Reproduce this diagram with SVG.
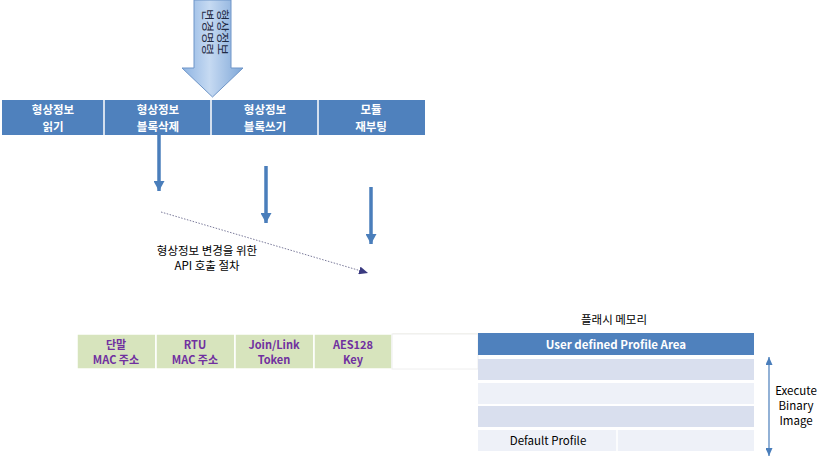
<svg xmlns="http://www.w3.org/2000/svg" width="826" height="464" viewBox="0 0 826 464">
<defs>
<style>
text{font-family:"Noto Sans CJK KR","Noto Sans",sans-serif;}
.hd{fill:#fff;font-size:11.5px;font-weight:bold;text-anchor:middle;}
.pu{fill:#7030A0;font-size:11px;font-weight:bold;text-anchor:middle;}
.bk{fill:#000;font-size:11.5px;text-anchor:middle;}
.sep{stroke:#fff;stroke-width:1.5;}
.dn{stroke:#4A7EBB;stroke-width:3.5;fill:none;}
.gb{fill:#D7E4BD;stroke:#fff;stroke-width:1.5;}
</style>
<linearGradient id="bg" x1="0" y1="0" x2="1" y2="0">
<stop offset="0" stop-color="#8DB3E2"/>
<stop offset="0.45" stop-color="#C6DAF2"/>
<stop offset="1" stop-color="#7FA7D8"/>
</linearGradient>
<marker id="dh" markerWidth="10" markerHeight="11" refX="10" refY="5.5" orient="auto" markerUnits="userSpaceOnUse"><path d="M0,0 L10,5.5 L0,11 Z" fill="#4A7EBB"/></marker>
<marker id="nv" markerWidth="9" markerHeight="8" refX="9" refY="4" orient="auto" markerUnits="userSpaceOnUse"><path d="M0,0 L9,4 L0,8 Z" fill="#3A3A80"/></marker>
<marker id="ba" markerWidth="8" markerHeight="7" refX="8" refY="3.5" orient="auto-start-reverse" markerUnits="userSpaceOnUse"><path d="M0,0 L8,3.5 L0,7 Z" fill="#4A7EBB"/></marker>
</defs>
<rect width="826" height="464" fill="#fff"/>

<g id="big-arrow">
<path d="M194,0 L231,0 L231,68 L243,68 L212.5,97 L182,68 L194,68 Z" fill="url(#bg)" stroke="#6E95C8" stroke-width="1"/>
<text transform="translate(213,32) rotate(90)" style="font-size:12.5px;fill:#1F2A44;text-anchor:middle"><tspan x="0" y="-5">형상정보</tspan><tspan x="0" y="10">변경명령</tspan></text>
</g>

<g id="top-bar">
<rect x="2" y="100" width="423" height="35" fill="#4F81BD"/>
<line class="sep" x1="104" y1="100" x2="104" y2="135"/>
<line class="sep" x1="211" y1="100" x2="211" y2="135"/>
<line class="sep" x1="318" y1="100" x2="318" y2="135"/>
<g id="n-read"><text class="hd" x="53" y="114">형상정보</text><text class="hd" x="53" y="131">읽기</text></g>
<g id="n-delete"><text class="hd" x="158" y="114">형상정보</text><text class="hd" x="158" y="131">블록삭제</text></g>
<g id="n-write"><text class="hd" x="265" y="114">형상정보</text><text class="hd" x="265" y="131">블록쓰기</text></g>
<g id="n-reboot"><text class="hd" x="371" y="114">모듈</text><text class="hd" x="371" y="131">재부팅</text></g>
</g>

<g id="connectors">
<line class="dn" x1="159" y1="135" x2="159" y2="191" marker-end="url(#dh)"/>
<line class="dn" x1="266" y1="166" x2="266" y2="223" marker-end="url(#dh)"/>
<line class="dn" x1="371" y1="187" x2="371" y2="244" marker-end="url(#dh)"/>
<line x1="161" y1="212" x2="368" y2="273" stroke="#7A7A9A" stroke-width="1" stroke-dasharray="1.5,1.5" marker-end="url(#nv)"/>
<line x1="392" y1="334" x2="478" y2="334" stroke="#E8E8D8" stroke-width="1"/>
<line x1="392" y1="368" x2="478" y2="356" stroke="#D8D8A8" stroke-width="1" stroke-dasharray="2,1"/>
<line x1="769" y1="357" x2="769" y2="456" stroke="#4A7EBB" stroke-width="1.2" marker-start="url(#ba)" marker-end="url(#ba)"/>
</g>

<g id="api-label">
<text class="bk" x="207" y="255">형상정보 변경을 위한</text>
<text class="bk" x="207" y="270">API 호출 절차</text>
</g>

<g id="fields">
<g id="f-mac"><rect class="gb" x="77" y="334" width="79" height="35"/><text class="pu" x="116" y="349">단말</text><text class="pu" x="116" y="364">MAC 주소</text></g>
<g id="f-rtu"><rect class="gb" x="156" y="334" width="79" height="35"/><text class="pu" x="195" y="349">RTU</text><text class="pu" x="195" y="364">MAC 주소</text></g>
<g id="f-token"><rect class="gb" x="235" y="334" width="79" height="35"/><text class="pu" x="274" y="349">Join/Link</text><text class="pu" x="274" y="364">Token</text></g>
<g id="f-key"><rect class="gb" x="314" y="334" width="78" height="35"/><text class="pu" x="353" y="349">AES128</text><text class="pu" x="353" y="364">Key</text></g>
<rect x="392" y="334" width="86" height="35" fill="#fff" stroke="#EEEEEE" stroke-width="1"/>
</g>

<g id="flash">
<text class="bk" x="614" y="324">플래시 메모리</text>
<g id="m-user"><rect x="478" y="333" width="276" height="22" fill="#4F81BD"/><text class="hd" x="616" y="349">User defined Profile  Area</text></g>
<rect x="478" y="359" width="276" height="21" fill="#D9DFEE"/>
<rect x="478" y="383" width="276" height="21" fill="#EEF1F8"/>
<rect x="478" y="406" width="276" height="21" fill="#D9DFEE"/>
<g id="m-default"><rect x="478" y="430" width="276" height="21" fill="#EEF1F8"/><line x1="617" y1="430" x2="617" y2="451" stroke="#fff" stroke-width="1.5"/><text x="548" y="445" style="font-size:11.5px;fill:#000;text-anchor:middle">Default Profile</text></g>
</g>

<g id="exec-label">
<text class="bk" x="796" y="395">Execute</text>
<text class="bk" x="796" y="410">Binary</text>
<text class="bk" x="796" y="425">Image</text>
</g>
</svg>
